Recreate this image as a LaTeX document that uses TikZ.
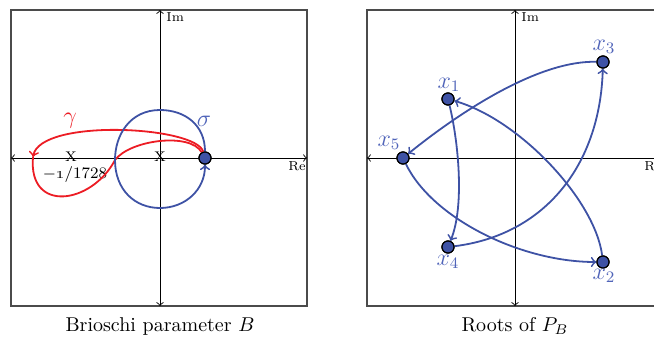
\documentclass[tikz,border=0pt]{standalone}
\usepackage{tikz}
\definecolor{cblue}{RGB}{62,82,165}
\definecolor{lblue}{RGB}{80,100,185}
\definecolor{cred}{RGB}{236,28,36}
\definecolor{framegray}{RGB}{75,75,75}
\begin{document}
\begin{tikzpicture}[x=0.5pt,y=-0.5pt,
  frame/.style={draw=framegray,line width=0.7pt},
  axis/.style={<->,line width=0.45pt,black},
  axlabel/.style={inner sep=0pt,font=\fontsize{6.5}{7}\selectfont},
  cross/.style={inner sep=0pt,font=\scriptsize},
  root/.style={circle,draw=black,fill=cblue,line width=0.6pt,minimum size=6pt,inner sep=0pt},
  bpath/.style={cblue,line width=0.9pt},
  rpath/.style={cred,line width=0.9pt},
  blab/.style={text=lblue,inner sep=0pt},
  rlab/.style={text=cred,inner sep=0pt},
  caption/.style={inner sep=0pt}]
\useasboundingbox (0,0) rectangle (654,338);
% ---------- left panel ----------
\draw[frame] (11,10) rectangle (307,306);
\coordinate (lw) at (11,158);
\coordinate (le) at (307,158);
\coordinate (ln) at (160,10);
\coordinate (ls) at (160,306);
\draw[axis] (lw) -- (le);
\draw[axis] (ln) -- (ls);
\node[axlabel] (lre) at (297,166) {Re};
\node[axlabel,anchor=west] (lim) at (166,17) {Im};
\node[cross] (c1) at (71,157) {X};
\node[cross] (c0) at (160,157) {X};
\node[inner sep=0pt,font=\footnotesize] (lab1728) at (75,174) {$-$\oldstylenums{1}/1728};
\node[root] (b) at (205,158) {};
% gamma
\coordinate (g1) at (33,157);
\coordinate (g2) at (115,160);
\draw[rpath,->] (b) .. controls (196,126) and (40,118) .. (g1);
\draw[rpath] (g1) .. controls (28,214) and (92,204) .. (g2)
   .. controls (130,140) and (190,132) .. (b);
% sigma
\coordinate (s1) at (160,110);
\coordinate (s2) at (115,160);
\coordinate (s3) at (160,208);
\draw[bpath,->] (b.north) .. controls (205,125) and (185,110) .. (s1)
   .. controls (130,110) and (115,135) .. (s2)
   .. controls (115,190) and (135,208) .. (s3)
   .. controls (185,208) and (205,190) .. (b.south);
\node[root] at (b) {};
\node[rlab,font=\large] (gam) at (70,121) {$\gamma$};
\node[blab,font=\large] (sig) at (204,121) {$\sigma$};
\node[caption] (cap1) at (160,326) {Brioschi parameter $B$};
% ---------- right panel ----------
\draw[frame] (367,10) rectangle (663,306);
\coordinate (rw) at (367,158);
\coordinate (re) at (663,158);
\coordinate (rn) at (515,10);
\coordinate (rs) at (515,306);
\draw[axis] (rw) -- (re);
\draw[axis] (rn) -- (rs);
\node[axlabel] (rre) at (653,166) {Re};
\node[axlabel,anchor=west] (rim) at (521,17) {Im};
\node[root] (x1) at (448,99) {};
\node[root] (x2) at (603,262) {};
\node[root] (x3) at (603,62) {};
\node[root] (x4) at (448,247) {};
\node[root] (x5) at (403,158) {};
\draw[bpath,->] (x3) .. controls (530,60) and (440,128) .. (x5);
\draw[bpath,->] (x1) .. controls (458,140) and (465,205) .. (x4);
\draw[bpath,->] (x4) .. controls (545,235) and (600,165) .. (x3);
\draw[bpath,->] (x5) .. controls (432,218) and (520,262) .. (x2);
\draw[bpath,->] (x2) .. controls (595,200) and (520,120) .. (x1);
\foreach \p in {x1,x2,x3,x4,x5} \node[root] at (\p) {};
\node[blab,font=\large] (l1) at (449,85) {$x_1$};
\node[blab,font=\large] (l3) at (604,47) {$x_3$};
\node[blab,font=\large] (l5) at (389,143) {$x_5$};
\node[blab,font=\large] (l4) at (448,262) {$x_4$};
\node[blab,font=\large] (l2) at (604,276) {$x_2$};
\node[caption] (cap2) at (515,326) {Roots of $P_B$};
\end{tikzpicture}
\end{document}
